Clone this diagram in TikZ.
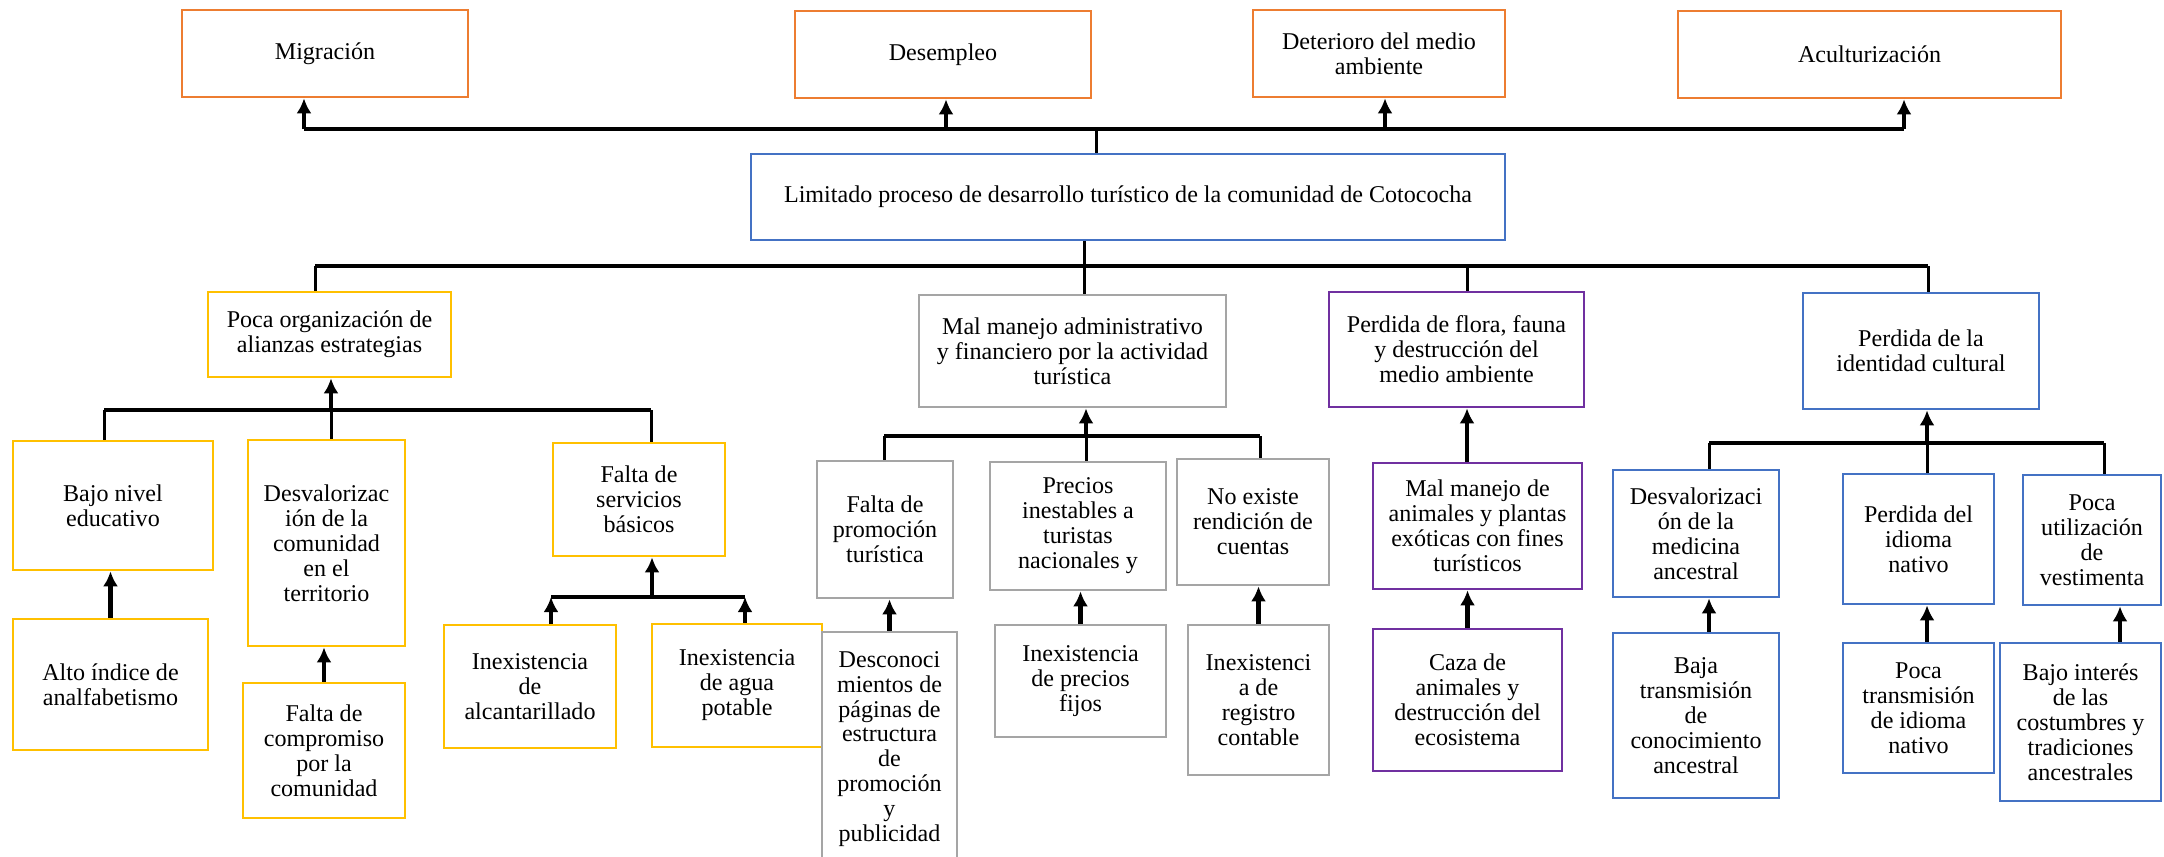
\documentclass[tikz,border=0pt]{standalone}
\usepackage{fontspec}
\setmainfont{Liberation Serif}
\usetikzlibrary{arrows.meta}
\definecolor{naranja}{HTML}{ED7D31}
\definecolor{amarillo}{HTML}{FFC000}
\definecolor{gris}{HTML}{A5A5A5}
\definecolor{morado}{HTML}{7030A0}
\definecolor{azul}{HTML}{4472C4}
\tikzset{
  caja/.style={draw,line width=0.27mm,align=center,inner sep=0pt,font=\fontsize{6.85}{7.1}\selectfont},
  barra/.style={line width=0.42mm},
  linea/.style={line width=0.3mm},
  flecha/.style={line width=0.42mm,-{Latex[length=1.5mm,width=1.5mm]}}
}
\begin{document}
\begin{tikzpicture}[x=0.1mm,y=-0.1mm]
\clip (0,0) rectangle (2164,856);
% efectos
\node[caja,draw=naranja,minimum width=28.6mm,minimum height=8.7mm] (migracion) at (325,53.5) {Migración};
\node[caja,draw=naranja,minimum width=29.6mm,minimum height=8.7mm] (desempleo) at (943,54.5) {Desempleo};
\node[caja,draw=naranja,minimum width=25.2mm,minimum height=8.7mm] (deterioro) at (1379,53.5) {Deterioro del medio\\ambiente};
\node[caja,draw=naranja,minimum width=38.3mm,minimum height=8.7mm] (aculturizacion) at (1869.5,54.5) {Aculturización};
% problema central
\node[caja,draw=azul,minimum width=75.4mm,minimum height=8.6mm] (principal) at (1128,197) {Limitado proceso de desarrollo turístico de la comunidad de Cotococha};
% causas
\node[caja,draw=amarillo,minimum width=24.3mm,minimum height=8.5mm] (poca) at (329.5,334.5) {Poca organización de\\alianzas estrategias};
\node[caja,draw=gris,minimum width=30.7mm,minimum height=11.2mm] (malmanejo) at (1072.5,351) {Mal manejo administrativo\\y financiero por la actividad\\turística};
\node[caja,draw=morado,minimum width=25.5mm,minimum height=11.5mm] (flora) at (1456.5,349.5) {Perdida de flora, fauna\\y destrucción del\\medio ambiente};
\node[caja,draw=azul,minimum width=23.6mm,minimum height=11.6mm] (identidad) at (1921,351) {Perdida de la\\identidad cultural};
% subcausas
\node[caja,draw=amarillo,minimum width=20mm,minimum height=12.9mm] (bajonivel) at (113,505.5) {Bajo nivel\\educativo};
\node[caja,draw=amarillo,minimum width=15.7mm,minimum height=20.6mm] (desvcom) at (326.5,543) {Desvalorizac\\ión de la\\comunidad\\en el\\territorio};
\node[caja,draw=amarillo,minimum width=17.2mm,minimum height=11.3mm] (servicios) at (639,499.5) {Falta de\\servicios\\básicos};
\node[caja,draw=gris,minimum width=13.6mm,minimum height=13.7mm] (promocion) at (885,529.5) {Falta de\\promoción\\turística};
\node[caja,draw=gris,minimum width=17.6mm,minimum height=12.8mm] (precios) at (1078,526) {Precios\\inestables a\\turistas\\nacionales y};
\node[caja,draw=gris,minimum width=15.2mm,minimum height=12.6mm] (rendicion) at (1253,522) {No existe\\rendición de\\cuentas};
\node[caja,draw=morado,minimum width=20.9mm,minimum height=12.6mm] (animales) at (1477.5,526) {Mal manejo de\\animales y plantas\\exóticas con fines\\turísticos};
\node[caja,draw=azul,minimum width=16.6mm,minimum height=12.7mm] (medicina) at (1696,533.5) {Desvalorizaci\\ón de la\\medicina\\ancestral};
\node[caja,draw=azul,minimum width=15.1mm,minimum height=13mm] (idioma) at (1918.5,539) {Perdida del\\idioma\\nativo};
\node[caja,draw=azul,minimum width=13.8mm,minimum height=13mm] (vestimenta) at (2092,540) {Poca\\utilización\\de\\vestimenta};
% causas de fondo
\node[caja,draw=amarillo,minimum width=19.5mm,minimum height=13.1mm] (alto) at (110.5,684.5) {Alto índice de\\analfabetismo};
\node[caja,draw=amarillo,minimum width=16.2mm,minimum height=13.5mm] (compromiso) at (324,750.5) {Falta de\\compromiso\\por la\\comunidad};
\node[caja,draw=amarillo,minimum width=17.2mm,minimum height=12.3mm] (alcantarillado) at (530,686.5) {Inexistencia\\de\\alcantarillado};
\node[caja,draw=amarillo,minimum width=17mm,minimum height=12.3mm] (agua) at (737,685.5) {Inexistencia\\de agua\\potable};
\node[caja,draw=gris,minimum width=13.5mm,minimum height=23.4mm] (desconoc) at (889.5,749) {Desconoci\\mientos de\\páginas de\\estructura\\de\\promoción\\y\\publicidad};
\node[caja,draw=gris,minimum width=17.1mm,minimum height=11.2mm] (preciosfijos) at (1080.5,681) {Inexistencia\\de precios\\fijos};
\node[caja,draw=gris,minimum width=14.1mm,minimum height=15mm] (registro) at (1258.5,700) {Inexistenci\\a de\\registro\\contable};
\node[caja,draw=morado,minimum width=18.9mm,minimum height=14.2mm] (caza) at (1467.5,700) {Caza de\\animales y\\destrucción del\\ecosistema};
\node[caja,draw=azul,minimum width=16.6mm,minimum height=16.5mm] (baja) at (1696,715.5) {Baja\\transmisión\\de\\conocimiento\\ancestral};
\node[caja,draw=azul,minimum width=15.1mm,minimum height=13mm] (pocatrans) at (1918.5,708) {Poca\\transmisión\\de idioma\\nativo};
\node[caja,draw=azul,minimum width=16.1mm,minimum height=15.8mm] (interes) at (2080.5,722) {Bajo interés\\de las\\costumbres y\\tradiciones\\ancestrales};
% conectores de efectos
\coordinate (e0) at (1096,129);
\coordinate (e1) at (304,129);
\coordinate (e2) at (946,129);
\coordinate (e3) at (1385,129);
\coordinate (e4) at (1904,129);
\draw[barra] (e1) -- (e4);
\draw[linea] (e0) -- (e0 |- principal.north);
\foreach \p/\n in {e1/migracion,e2/desempleo,e3/deterioro,e4/aculturizacion}
  \draw[flecha] (\p) -- (\p |- \n.south);
% conectores de causas
\coordinate (c0) at (1084,266);
\coordinate (c1) at (315,266);
\coordinate (c3) at (1467,266);
\coordinate (c4) at (1928,266);
\draw[barra] (c1) -- (c4);
\draw[linea] (c0 |- principal.south) -- (c0 |- malmanejo.north);
\foreach \p/\n in {c1/poca,c3/flora,c4/identidad}
  \draw[linea] (\p) -- (\p |- \n.north);
% poca organizacion
\coordinate (p0) at (331,410);
\coordinate (p1) at (104,410);
\coordinate (p3) at (651,410);
\draw[barra] (p1) -- (p3);
\draw[flecha] (p0) -- (p0 |- poca.south);
\foreach \p/\n in {p0/desvcom,p1/bajonivel,p3/servicios}
  \draw[linea] (\p) -- (\p |- \n.north);
\draw[flecha] (alto.north) -- (alto.north |- bajonivel.south);
\draw[flecha] (compromiso.north) -- (compromiso.north |- desvcom.south);
\coordinate (s0) at (652,597);
\coordinate (s1) at (551,597);
\coordinate (s2) at (745,597);
\draw[barra] (s1) -- (s2);
\draw[flecha] (s0) -- (s0 |- servicios.south);
\draw[flecha] (s1 |- alcantarillado.north) -- (s1);
\draw[flecha] (s2 |- agua.north) -- (s2);
% mal manejo
\coordinate (m0) at (1086,436);
\coordinate (m1) at (884,436);
\coordinate (m3) at (1260,436);
\draw[barra] (m1) -- (m3);
\draw[flecha] (m0) -- (m0 |- malmanejo.south);
\foreach \p/\n in {m0/precios,m1/promocion,m3/rendicion}
  \draw[linea] (\p) -- (\p |- \n.north);
\draw[flecha] (desconoc.north) -- (desconoc.north |- promocion.south);
\draw[flecha] (preciosfijos.north) -- (preciosfijos.north |- precios.south);
\draw[flecha] (registro.north) -- (registro.north |- rendicion.south);
% flora y fauna
\draw[flecha] (c3 |- animales.north) -- (c3 |- flora.south);
\draw[flecha] (caza.north) -- (caza.north |- animales.south);
% identidad cultural
\coordinate (i0) at (1927,443);
\coordinate (i1) at (1709,443);
\coordinate (i3) at (2104,443);
\draw[barra] (i1) -- (i3);
\draw[flecha] (i0) -- (i0 |- identidad.south);
\foreach \p/\n in {i0/idioma,i1/medicina,i3/vestimenta}
  \draw[linea] (\p) -- (\p |- \n.north);
\draw[flecha] (i1 |- baja.north) -- (i1 |- medicina.south);
\draw[flecha] (i0 |- pocatrans.north) -- (i0 |- idioma.south);
\draw[flecha] (2120,0 |- interes.north) -- (2120,0 |- vestimenta.south);
\end{tikzpicture}
\end{document}
